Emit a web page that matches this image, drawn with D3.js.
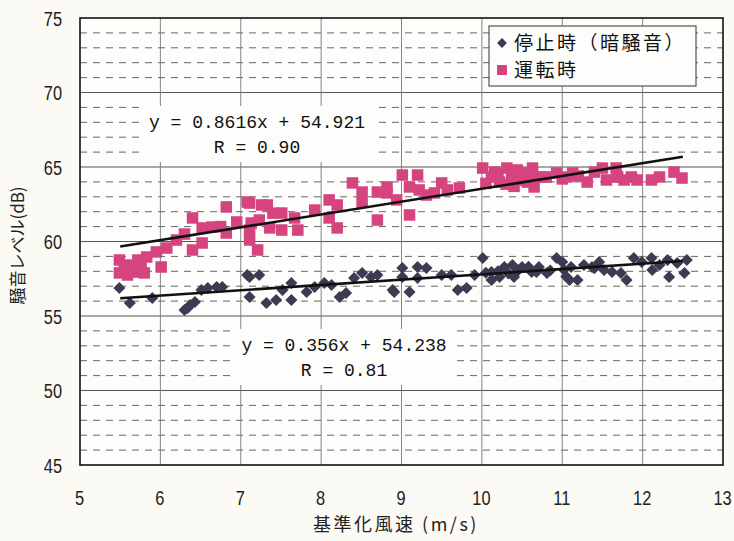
<!DOCTYPE html>
<html>
<head>
<meta charset="utf-8">
<script src="https://cdn.jsdelivr.net/npm/d3@7"></script>
<style>
  html, body { margin: 0; padding: 0; background: #fbfaf4; }
  svg { display: block; }
</style>
</head>
<body>
<svg id="chart" width="734" height="541"></svg>
<script>
// 停止時（暗騒音） — background noise, wind speed (m/s) vs level (dB)
const stopX = [5.49,5.62,5.90,6.30,6.34,6.37,6.43,6.51,6.59,6.70,6.77,7.08,7.11,7.11,7.23,7.32,7.44,7.52,7.63,7.63,7.82,7.92,8.04,8.13,8.23,8.31,8.41,8.51,8.62,8.70,8.89,8.91,9.01,9.01,9.10,9.20,9.20,9.31,9.50,9.62,9.70,9.81,9.91,10.01,10.12,10.12,10.22,10.28,10.38,10.40,10.50,10.62,10.71,10.81,10.93,11.00,11.09,11.11,11.19,11.27,11.37,11.46,11.52,11.62,11.73,11.80,11.89,11.99,12.11,12.12,12.21,12.31,12.33,12.43,12.52,12.55,
  10.05,10.20,10.33,10.45,10.58,10.85,11.02,11.05,10.68,11.40];
const stopY = [56.88,55.87,56.21,55.40,55.54,55.74,55.94,56.74,56.88,56.95,56.95,57.75,56.28,57.62,57.75,55.87,56.07,56.74,57.21,56.07,56.61,56.95,57.21,57.08,56.28,56.54,57.55,57.89,57.62,57.75,56.74,56.61,58.22,57.62,56.61,58.29,57.55,58.22,57.75,57.75,56.74,56.88,57.75,58.89,57.95,57.42,57.62,58.29,58.42,57.62,58.29,57.95,58.29,57.89,58.89,58.62,57.42,58.29,57.42,58.42,58.29,58.62,58.09,57.95,57.89,57.42,58.89,58.62,58.89,58.09,58.42,58.76,57.62,58.56,57.89,58.76,
  57.90,58.00,57.85,58.05,58.30,58.05,58.10,57.65,57.95,58.20];

// 運転時 — turbine operating
const runX = [5.49,5.49,5.59,5.59,5.72,5.72,5.80,5.83,5.95,6.01,6.08,6.20,6.40,6.40,6.52,6.52,6.64,6.82,6.82,6.95,7.08,7.11,7.13,7.11,7.11,7.26,7.23,7.21,7.33,7.36,7.51,7.51,7.67,7.71,7.92,8.10,8.10,8.20,8.20,8.39,8.51,8.51,8.70,8.70,8.82,8.82,8.94,9.01,9.10,9.10,9.20,9.22,9.31,9.41,9.50,9.57,9.72,10.01,10.12,10.16,10.22,10.31,10.37,10.44,10.53,10.57,10.63,10.75,10.65,10.65,10.80,10.93,11.06,11.13,11.31,11.40,11.50,11.55,11.67,11.69,11.77,11.86,11.93,12.11,12.21,12.39,12.49,
  5.55,5.65,5.76,10.05,10.20,10.30,10.45,10.55,10.40,11.00,11.20,6.30,6.75,7.40];
const runY = [58.76,57.89,57.75,58.42,58.76,57.95,57.89,58.96,59.30,58.29,59.56,60.10,61.58,59.43,60.91,59.90,60.97,62.32,60.57,61.31,62.65,60.10,61.24,62.58,60.77,62.45,61.44,59.43,62.45,60.91,61.91,60.77,61.58,60.77,62.11,62.79,61.58,62.45,60.91,63.93,63.32,62.65,63.32,61.44,63.26,63.66,62.79,64.46,63.66,61.78,64.46,63.46,63.12,63.26,63.93,63.46,63.59,64.93,64.33,64.66,63.99,64.93,64.33,64.80,64.60,63.99,64.93,64.33,64.33,63.66,64.33,64.60,64.33,64.60,63.99,64.66,64.93,64.13,64.93,64.33,64.13,64.33,64.13,64.13,64.33,64.66,64.26,
  58.20,58.30,58.40,63.90,64.55,63.85,64.10,64.35,63.70,64.20,64.40,60.50,61.00,61.90];

// regression lines: slope, intercept, R, fitted x-range
const runFit  = { slope: 0.8616, intercept: 54.921, r: "0.90" };
const stopFit = { slope: 0.356,  intercept: 54.238, r: "0.81" };
const fitRange = [5.5, 12.5];

const xTicks = [5, 6, 7, 8, 9, 10, 11, 12, 13];
const yTicks = [45, 50, 55, 60, 65, 70, 75];
const yMinor = d3.range(45, 76, 1);

const seriesNames = ["停止時（暗騒音）", "運転時"];
const xTitle = "基準化風速 (m/s)";
const yTitle = "騒音レベル(dB)";

const plot = { left: 80, right: 723, top: 18, bottom: 465 };
const PINK = "#d6447f", DARK = "#3b3c52";
const numFont = "'Liberation Sans','DejaVu Sans',sans-serif";
const monoFont = "'Liberation Mono','DejaVu Sans Mono',monospace";
const jpFont = "'Noto Sans CJK JP','Noto Sans CJK SC',sans-serif";

const svg = d3.select("#chart");
const x = d3.scaleLinear().domain([5, 13]).range([plot.left, plot.right]);
const y = d3.scaleLinear().domain([45, 75]).range([plot.bottom, plot.top]);

// plot background
svg.append("rect")
  .attr("x", plot.left).attr("y", plot.top)
  .attr("width", plot.right - plot.left).attr("height", plot.bottom - plot.top)
  .attr("fill", "#fdfdfb");

const grid = svg.append("g");
// minor dashed horizontals every 1 dB
grid.selectAll("line.minor").data(yMinor.filter(v => v % 5 !== 0)).join("line")
  .attr("x1", plot.left).attr("x2", plot.right)
  .attr("y1", d => y(d)).attr("y2", d => y(d))
  .attr("stroke", "#666").attr("stroke-width", 1)
  .attr("stroke-dasharray", "7,6");
// major solid horizontals
grid.selectAll("line.major").data(yTicks.slice(1, -1)).join("line")
  .attr("x1", plot.left).attr("x2", plot.right)
  .attr("y1", d => y(d)).attr("y2", d => y(d))
  .attr("stroke", "#555").attr("stroke-width", 1);
// vertical solid lines
grid.selectAll("line.v").data(xTicks.slice(1, -1)).join("line")
  .attr("x1", d => x(d)).attr("x2", d => x(d))
  .attr("y1", plot.top).attr("y2", plot.bottom)
  .attr("stroke", "#777").attr("stroke-width", 0.9);

// equation label boxes hide the grid behind the text
function eqLabel(fit, cx, cy, w) {
  const g = svg.append("g");
  g.append("rect").attr("x", cx - w / 2).attr("y", cy - 22).attr("width", w).attr("height", 56)
    .attr("fill", "#fdfdfb");
  const t = [`y = ${fit.slope}x + ${fit.intercept}`, `R = ${fit.r}`];
  g.selectAll("text").data(t).join("text")
    .attr("x", cx).attr("y", (d, i) => cy + i * 25)
    .attr("text-anchor", "middle")
    .attr("font-family", monoFont)
    .attr("font-size", 18).attr("fill", "#111")
    .text(d => d);
}
eqLabel(runFit, 257, 128, 232);
eqLabel(stopFit, 344, 351, 222);

// border
svg.append("rect")
  .attr("x", plot.left).attr("y", plot.top)
  .attr("width", plot.right - plot.left).attr("height", plot.bottom - plot.top)
  .attr("fill", "none").attr("stroke", "#111").attr("stroke-width", 1.6);

// data: operating (pink squares)
const runData = runX.map((v, i) => [v, runY[i]]);
const stopData = stopX.map((v, i) => [v, stopY[i]]);
const sq = 11.5;
svg.append("g").selectAll("rect").data(runData).join("rect")
  .attr("x", d => x(d[0]) - sq / 2).attr("y", d => y(d[1]) - sq / 2)
  .attr("width", sq).attr("height", sq)
  .attr("fill", PINK);

// data: stopped (dark diamonds)
const dm = 8.5;
svg.append("g").selectAll("rect").data(stopData).join("rect")
  .attr("x", -dm / 2).attr("y", -dm / 2).attr("width", dm).attr("height", dm)
  .attr("transform", d => `translate(${x(d[0])},${y(d[1])}) rotate(45)`)
  .attr("fill", DARK);

// trend lines
const line = d3.line().x(d => x(d[0])).y(d => y(d[1]));
[runFit, stopFit].forEach(f => {
  svg.append("path")
    .attr("d", line(fitRange.map(v => [v, f.slope * v + f.intercept])))
    .attr("fill", "none").attr("stroke", "#111").attr("stroke-width", 2.6);
});

// axes (narrow, tall digits via horizontal squeeze)
const xAxis = svg.append("g").attr("transform", `translate(0,${plot.bottom})`)
  .call(d3.axisBottom(x).tickValues(xTicks).tickSize(0).tickPadding(0).tickFormat(d3.format("d")));
const yAxis = svg.append("g").attr("transform", `translate(${plot.left},0)`)
  .call(d3.axisLeft(y).tickValues(yTicks).tickSize(0).tickPadding(0).tickFormat(d3.format("d")));
[xAxis, yAxis].forEach(a => {
  a.select(".domain").remove();
  a.selectAll("text").attr("font-family", numFont).attr("font-size", 21).attr("fill", "#222");
});
xAxis.selectAll("text")
  .attr("y", 0).attr("dy", 0)
  .attr("transform", "translate(-1,40) scale(0.78,1)");
yAxis.selectAll("text")
  .attr("x", 0).attr("dy", "0.35em")
  .attr("transform", "translate(-18,0) scale(0.78,1)");

// axis titles
svg.append("text").attr("x", 396).attr("y", 531)
  .attr("text-anchor", "middle").attr("font-family", jpFont).attr("font-size", 18)
  .attr("letter-spacing", 2.5).attr("fill", "#222")
  .text(xTitle);
svg.append("text")
  .attr("transform", `translate(24,${(plot.top + plot.bottom) / 2 + 4}) rotate(-90)`)
  .attr("text-anchor", "middle").attr("font-family", jpFont).attr("font-size", 17).attr("fill", "#222")
  .text(yTitle);

// legend
const lg = svg.append("g");
lg.append("rect").attr("x", 489).attr("y", 26).attr("width", 207).attr("height", 60)
  .attr("fill", "#fdfdfb").attr("stroke", "#333").attr("stroke-width", 1);
lg.append("rect").attr("x", -3.5).attr("y", -3.5).attr("width", 7).attr("height", 7)
  .attr("transform", "translate(502,43) rotate(45)").attr("fill", DARK);
lg.append("rect").attr("x", 497).attr("y", 65).attr("width", 10).attr("height", 10).attr("fill", PINK);
lg.selectAll("text").data(seriesNames).join("text")
  .attr("x", 514).attr("y", (d, i) => 43 + i * 27)
  .attr("dy", "0.36em")
  .attr("font-family", jpFont).attr("font-size", 19).attr("letter-spacing", 2.5).attr("fill", "#111")
  .text(d => d);
</script>
</body>
</html>
